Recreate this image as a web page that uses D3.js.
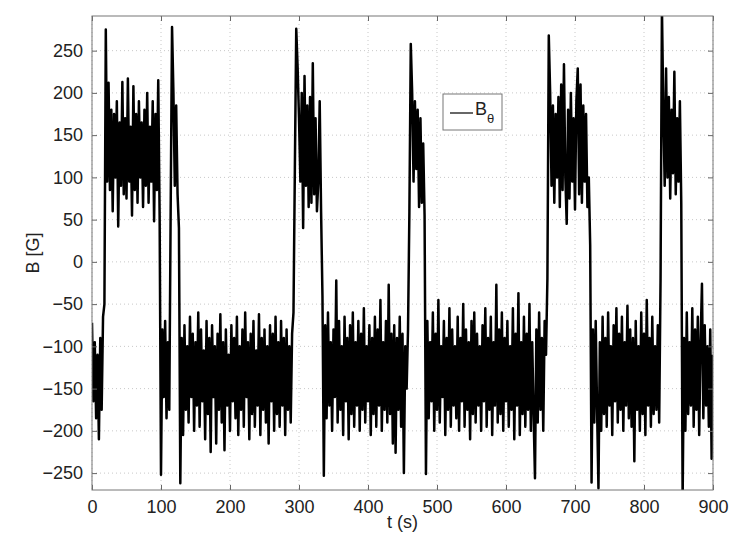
<!DOCTYPE html>
<html>
<head>
<meta charset="utf-8">
<script src="https://cdn.jsdelivr.net/npm/d3@7"></script>
<style>
  html, body { margin: 0; padding: 0; background: #fff; }
  svg { display: block; }
  text { font-family: "Liberation Sans", Arial, Helvetica, sans-serif; fill: #222; }
</style>
</head>
<body>
<div id="chart"></div>
<script>
const tStep = 2;
const bTheta = [
  // 0-18 s, low
  -72, -165, -95, -185, -110, -210, -90, -175, -65, -50,
  // 20 s spike
  275,
  // 22-98 s, high
  95, 212, 85, 180, 60, 175, 100, 190, 42, 165, 90, 213, 80, 170, 75, 217, 95, 160, 55, 208,
  85, 175, 70, 190, 100, 165, 65, 180, 90, 200, 70, 160, 95, 190, 48, 175, 85, 215, 55,
  // 100-112 s, low
  -252, -80, -160, -70, -185, -95, -175,
  // 114-126 s, high
  60, 278, 200, 90, 185, 80, 40,
  // 128 s
  -262,
  // 130-290 s, low
  -90, -205, -75, -175, -100, -190, -65, -160, -85, -200, -95, -170, -60, -195, -80, -165,
  -105, -210, -70, -180, -90, -225, -75, -160, -100, -215, -85, -175, -62, -190, -95, -223,
  -80, -170, -110, -200, -75, -165, -90, -185, -65, -205, -100, -175, -80, -195, -60, -160,
  -95, -210, -85, -180, -70, -195, -105, -170, -62, -205, -90, -175, -80, -190, -100, -215,
  -75, -165, -85, -200, -65, -180, -95, -195, -70, -170, -90, -205, -80, -175, -100, -190, -85,
  // 292-296 s, rise
  -60, 110, 276,
  // 298-330 s, high
  230, 170, 95, 200, 40, 220, 90, 185, 65, 195, 70, 235, 80, 170, 60, 95, 190,
  // 332-336 s, drop
  60, -40, -253,
  // 338-450 s, low
  -75, -185, -60, -170, -95, -200, -80, -160, -22, -190, -70, -175, -100, -205, -65, -165,
  -90, -210, -75, -180, -60, -195, -95, -170, -70, -200, -85, -175, -55, -190, -100, -165,
  -75, -205, -90, -180, -65, -195, -80, -170, -45, -200, -95, -175, -70, -190, -27, -180,
  -85, -215, -75, -226, -90, -175, -65, -195, -85,
  // 452-462 s
  -250, -100, -150, -80, 60, 258,
  // 464-482 s, high
  200, 95, 190, 110, 180, 65, 170, 70, 140, 55,
  // 484 s
  -251,
  // 486-656 s, low
  -70, -185, -95, -165, -60, -200, -85, -175, -45, -190, -100, -160, -70, -205, -90, -175,
  -55, -195, -80, -170, -100, -185, -65, -200, -90, -165, -50, -195, -80, -175, -95, -210,
  -70, -180, -60, -190, -85, -170, -100, -200, -75, -165, -55, -195, -90, -175, -65, -205,
  -95, -170, -27, -190, -80, -180, -60, -200, -90, -165, -70, -195, -100, -175, -55, -210,
  -85, -170, -37, -205, -95, -180, -65, -195, -85, -175, -50, -200, -95, -180, -256, -80,
  -190, -60, -175, -90, -200, -70,
  // 658-662 s, rise
  -110, -20, 268,
  // 664-718 s, high
  200, 90, 185, 70, 175, 100, 195, 65, 210, 85, 234, 100, 45, 180, 75, 200, 95, 170, 62, 190,
  229, 80, 210, 70, 185, 95, 175, 65,
  // 720-724 s, drop
  100, 20, -261,
  // 726-822 s, low
  -80, -190, -70, -175, -268, -95, -200, -65, -180, -90, -195, -60, -170, -100, -205, -75,
  -165, -55, -190, -85, -175, -65, -200, -95, -170, -52, -185, -80, -195, -90, -236, -70,
  -175, -100, -200, -60, -180, -85, -205, -45, -170, -90, -195, -65, -180, -100, -175, -75, -190,
  // 824-826 s, rise
  -20, 300,
  // 828-854 s, high
  180, 90, 229, 100, 195, 75, 180, 105, 225, 80, 170, 95, 190, 70,
  // 856 s
  -280,
  // 858-900 s, low
  -90, -200, -60, -180, -95, -170, -55, -195, -80, -175, -65, -205, -95, -26, -185, -75,
  -170, -100, -195, -80, -233, -110
];

const xTicks = [0, 100, 200, 300, 400, 500, 600, 700, 800, 900];
const yTicks = [-250, -200, -150, -100, -50, 0, 50, 100, 150, 200, 250];
const xDomain = [0, 900];
const yDomain = [-270, 291];

const W = 747, H = 545;
const margin = { left: 92, right: 34, top: 16, bottom: 55 };
const iw = W - margin.left - margin.right;
const ih = H - margin.top - margin.bottom;

const svg = d3.select('#chart').append('svg')
    .attr('width', W)
    .attr('height', H);

const g = svg.append('g')
    .attr('transform', `translate(${margin.left},${margin.top})`);

const x = d3.scaleLinear().domain(xDomain).range([0, iw]);
const y = d3.scaleLinear().domain(yDomain).range([ih, 0]);

// dotted grid
g.append('g')
    .selectAll('line')
    .data(xTicks)
    .join('line')
    .attr('x1', d => x(d)).attr('x2', d => x(d))
    .attr('y1', 0).attr('y2', ih)
    .attr('stroke', '#c8c8c8')
    .attr('stroke-dasharray', '1,3');

g.append('g')
    .selectAll('line')
    .data(yTicks)
    .join('line')
    .attr('x1', 0).attr('x2', iw)
    .attr('y1', d => y(d)).attr('y2', d => y(d))
    .attr('stroke', '#c8c8c8')
    .attr('stroke-dasharray', '1,3');

// signal, clipped to the axes box
g.append('clipPath').attr('id', 'plotclip')
    .append('rect').attr('width', iw).attr('height', ih);

const line = d3.line()
    .x((d, i) => x(i * tStep))
    .y(d => y(d));

g.append('path')
    .datum(bTheta)
    .attr('clip-path', 'url(#plotclip)')
    .attr('fill', 'none')
    .attr('stroke', '#000')
    .attr('stroke-width', 2.5)
    .attr('stroke-linejoin', 'round')
    .attr('d', line);

// axes (ticks inward on all four sides, matlab style)
function styleAxis(sel) {
    sel.select('.domain').remove();
    sel.selectAll('.tick line').attr('stroke', '#666');
    sel.selectAll('.tick text').attr('font-size', '18px').attr('fill', '#222');
}

g.append('g')
    .attr('transform', `translate(0,${ih})`)
    .call(d3.axisBottom(x).tickValues(xTicks).tickSize(-5).tickPadding(10).tickFormat(d3.format('d')))
    .call(styleAxis);

g.append('g')
    .call(d3.axisTop(x).tickValues(xTicks).tickSize(-5).tickFormat(''))
    .call(styleAxis);

g.append('g')
    .call(d3.axisLeft(y).tickValues(yTicks).tickSize(-5).tickPadding(9)
        .tickFormat(d => d3.format('d')(d).replace('-', '\u2212')))
    .call(styleAxis);

g.append('g')
    .attr('transform', `translate(${iw},0)`)
    .call(d3.axisRight(y).tickValues(yTicks).tickSize(-5).tickFormat(''))
    .call(styleAxis);

g.selectAll('.tick text').attr('font-family', '"Liberation Sans", Arial, Helvetica, sans-serif');

// box
g.append('rect')
    .attr('width', iw).attr('height', ih)
    .attr('fill', 'none')
    .attr('stroke', '#777')
    .attr('stroke-width', 1);

// axis labels
svg.append('text')
    .attr('x', margin.left + iw / 2)
    .attr('y', 528)
    .attr('text-anchor', 'middle')
    .attr('font-size', '18px')
    .text('t (s)');

svg.append('text')
    .attr('transform', `translate(39,${margin.top + ih / 2}) rotate(-90)`)
    .attr('text-anchor', 'middle')
    .attr('font-size', '18px')
    .text('B [G]');

// legend
const legend = svg.append('g').attr('transform', 'translate(443,94)');
legend.append('rect')
    .attr('width', 59).attr('height', 36)
    .attr('fill', '#fff')
    .attr('stroke', '#777');
legend.append('line')
    .attr('x1', 7).attr('x2', 30)
    .attr('y1', 19).attr('y2', 19)
    .attr('stroke', '#000')
    .attr('stroke-width', 1.2);
const lt = legend.append('text')
    .attr('x', 32).attr('y', 21)
    .attr('font-size', '18px');
lt.append('tspan').text('B');
lt.append('tspan').attr('dy', 8).attr('font-size', '13px').text('\u03b8');
</script>
</body>
</html>
